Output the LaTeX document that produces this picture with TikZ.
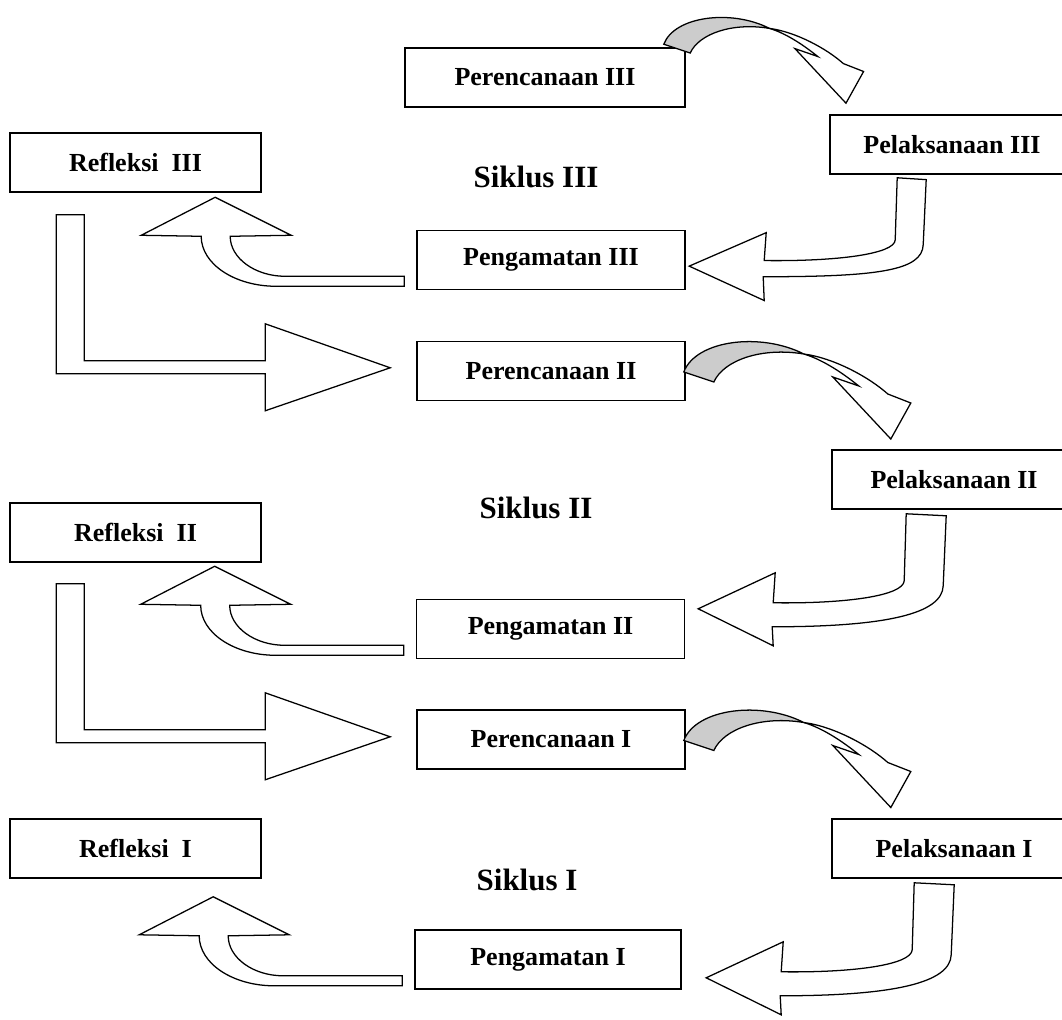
\documentclass[tikz,border=0pt]{standalone}
\usepackage{fontspec}
\setmainfont{Liberation Serif}
\usetikzlibrary{calc}
\tikzset{
  box/.style={draw,line width=1.1pt,fill=white,minimum width=#1,minimum height=1.475cm,
    inner sep=0pt,font=\fontsize{18.5}{22}\selectfont\bfseries},
  box/.default=6.7cm,
  title/.style={font=\fontsize{22}{26}\selectfont\bfseries},
  blk/.style={draw,line width=0.9pt,fill=#1},
  blk/.default=white,
  % block arrows
  pics/twist/.style={code={
    \path[blk=black!20] (0,0) .. controls (12,-32) and (77,-40) .. (120,-18)
      .. controls (78,-25) and (40,-12) .. (30,10) -- cycle;
    \path[blk] (120,-18) .. controls (150,-14) and (185,5) .. (204,22) -- (227,31) -- (207,67)
      -- (149,5) -- (175,14) .. controls (160,2) and (140,-12) .. cycle;
  }},
  pics/hook/.style={code={
    \path[blk] (0,0) -- (0,-10) -- (-119,-10) .. controls (-149,-10) and (-174,-28) .. (-174,-50)
      -- (-113,-51) -- (-189,-89) -- (-263,-51) -- (-203,-50)
      .. controls (-203,-22) and (-169,0) .. (-128,0) -- cycle;
  }},
  pics/uturn/.style={code={
    \path[blk] (0,0) -- (#1,2) -- ({#1-3},72) .. controls ({#1-4},100) and (-20,{89+0.6*#1}) .. (-134,{89+0.6*#1})
      -- (-133,132) -- (-208,95) -- (-131,59) -- (-133,89)
      .. controls (-60,90) and (-3,82) .. (-2,67) -- cycle;
  }},
  pics/uturn/.default=40,
  pics/ell/.style={code={
    \path[blk] (0,0) -- (28,0) -- (28,146) -- (209,146) -- (209,109) -- (334,153)
      -- (209,196) -- (209,159) -- (0,159) -- cycle;
  }},
}
\begin{document}
\begin{tikzpicture}[x=0.025cm,y=-0.025cm]
  \useasboundingbox (0,0) rectangle (1062,1019);
  \clip (0,0) rectangle (1062,1019);
  % Siklus III
  \node[box=7cm] (per3) at (545,77.5) {Perencanaan III};
  \node[box=6.1cm] (pel3) at (952,144.5) {Pelaksanaan III};
  \node[box=6.275cm] (ref3) at (135.5,162.5) {Refleksi\ \ III};
  \node[title] (sik3) at (536,177) {Siklus III};
  \node[box] (peng3) at (551,260) {Pengamatan III};
  % Siklus II
  \node[box] (per2) at (551,371) {Perencanaan II};
  \node[box=6.1cm] (pel2) at (954,479.5) {Pelaksanaan II};
  \node[box=6.275cm] (ref2) at (135.5,532.5) {Refleksi\ \ II};
  \node[title] (sik2) at (536,508) {Siklus II};
  \node[box] (peng2) at (550.5,629) {Pengamatan II};
  % Siklus I
  \node[box] (per1) at (551,739.5) {Perencanaan I};
  \node[box=6.1cm] (pel1) at (954,848.5) {Pelaksanaan I};
  \node[box=6.275cm] (ref1) at (135.5,848.5) {Refleksi\ \ I};
  \node[title] (sik1) at (527,880) {Siklus I};
  \node[box=6.65cm] (peng1) at (548,959.5) {Pengamatan I};

  % perencanaan -> pelaksanaan
  \pic[scale=0.88] at ($(per3.north east)+(-22,-3)$) {twist};
  \pic at ($(per2.east)+(-2,1)$) {twist};
  \pic at ($(per1.east)+(-2,1)$) {twist};
  % pelaksanaan -> pengamatan
  \pic[yscale=0.93] at ($(pel3.south west)+(68,3)$) {uturn=29};
  \pic at ($(pel2.south west)+(75,4)$) {uturn};
  \pic at ($(pel1.south west)+(83,4)$) {uturn};
  % pengamatan -> refleksi
  \foreach \n in {peng3,peng2,peng1}
    \pic at ($(\n.south west)+(-12,-4)$) {hook};
  % refleksi -> perencanaan
  \pic at ($(ref3.south west)+(47,22)$) {ell};
  \pic at ($(ref2.south west)+(47,21)$) {ell};
\end{tikzpicture}
\end{document}
